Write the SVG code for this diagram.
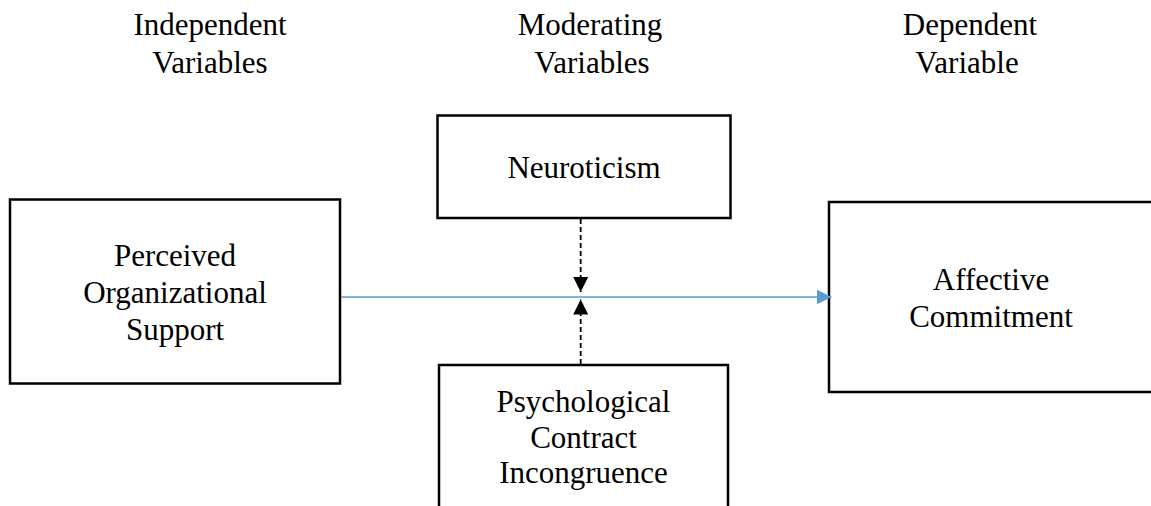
<svg xmlns="http://www.w3.org/2000/svg" width="1151" height="506" viewBox="0 0 1151 506">
<style>
  .box { fill: #ffffff; stroke: #000000; stroke-width: 2.5; }
  .t { font-family: "Liberation Serif", "Times New Roman", serif; font-size: 31px; fill: #000000; text-anchor: middle; }
  .blue { stroke: #5B9BD5; stroke-width: 1.3; fill: none; }
  .dash { stroke: #000000; stroke-width: 1.8; stroke-dasharray: 5 3; fill: none; }
</style>
<defs>
  <marker id="ahBlue" markerUnits="userSpaceOnUse" markerWidth="16" markerHeight="16" viewBox="0 0 16 16" refX="15" refY="8" orient="auto">
    <path d="M0,0.5 L15,8 L0,15.5 Z" fill="#5B9BD5"/>
  </marker>
  <marker id="ahBlack" markerUnits="userSpaceOnUse" markerWidth="16" markerHeight="16" viewBox="0 0 16 16" refX="15" refY="8" orient="auto">
    <path d="M0,0.5 L15,8 L0,15.5 Z" fill="#000000"/>
  </marker>
</defs>
<rect width="1151" height="506" fill="#ffffff"/>

<g id="headers">
  <text class="t" x="210" y="35">Independent</text>
  <text class="t" x="210" y="73">Variables</text>
  <text class="t" x="590" y="35">Moderating</text>
  <text class="t" x="592" y="73">Variables</text>
  <text class="t" x="970" y="35">Dependent</text>
  <text class="t" x="967" y="73">Variable</text>
</g>

<g id="node-pos">
  <rect class="box" x="10" y="199.5" width="330" height="184"/>
  <text class="t" x="175" y="266">Perceived</text>
  <text class="t" x="175" y="303">Organizational</text>
  <text class="t" x="175" y="340">Support</text>
</g>

<g id="node-neuroticism">
  <rect class="box" x="437.5" y="115.5" width="293" height="102.5"/>
  <text class="t" x="584" y="178">Neuroticism</text>
</g>

<g id="node-pci">
  <rect class="box" x="439" y="365" width="289" height="170"/>
  <text class="t" x="583.5" y="411.5">Psychological</text>
  <text class="t" x="583.5" y="447.5">Contract</text>
  <text class="t" x="583.5" y="483">Incongruence</text>
</g>

<g id="node-ac">
  <rect class="box" x="829" y="202" width="340" height="190"/>
  <text class="t" x="991" y="290">Affective</text>
  <text class="t" x="991" y="327">Commitment</text>
</g>

<g id="connectors">
  <line class="blue" x1="341" y1="297" x2="831.5" y2="297" marker-end="url(#ahBlue)"/>
  <line class="dash" x1="580.7" y1="219" x2="580.7" y2="292" marker-end="url(#ahBlack)"/>
  <line class="dash" x1="580.7" y1="364" x2="580.7" y2="299.5" marker-end="url(#ahBlack)"/>
</g>
</svg>
